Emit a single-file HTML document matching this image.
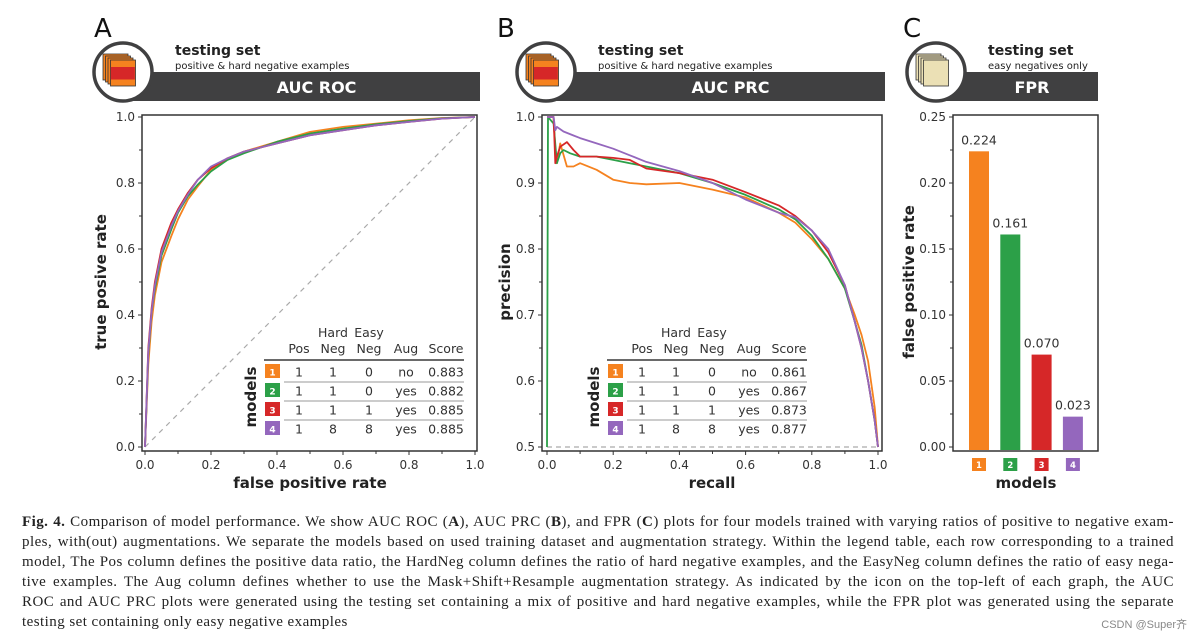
<!DOCTYPE html>
<html><head><meta charset="utf-8">
<style>
html,body{margin:0;padding:0;background:#fff;}
body{width:1195px;height:639px;overflow:hidden;position:relative;}
svg{position:absolute;left:0;top:0;}
.cap{position:absolute;left:22px;top:512px;width:1152px;font-family:"Liberation Serif",serif;font-size:15px;letter-spacing:0.45px;line-height:20px;color:#222;}
.cap div{text-align:justify;text-align-last:justify;white-space:nowrap;}
.cap div.last{text-align-last:left;}
.wm{position:absolute;right:8px;top:616px;font-family:"Liberation Sans",sans-serif;font-size:11px;color:#888;}
</style></head><body>
<svg id="fig" width="1195" height="505" viewBox="0 0 1195 505" font-family="'DejaVu Sans','Liberation Sans',sans-serif"></svg>
<div class="cap">
<div><b>Fig. 4.</b> Comparison of model performance. We show AUC ROC (<b>A</b>), AUC PRC (<b>B</b>), and FPR (<b>C</b>) plots for four models trained with varying ratios of positive to negative exam-</div>
<div>ples, with(out) augmentations. We separate the models based on used training dataset and augmentation strategy. Within the legend table, each row corresponding to a trained</div>
<div>model, The Pos column defines the positive data ratio, the HardNeg column defines the ratio of hard negative examples, and the EasyNeg column defines the ratio of easy nega-</div>
<div>tive examples. The Aug column defines whether to use the Mask+Shift+Resample augmentation strategy. As indicated by the icon on the top-left of each graph, the AUC</div>
<div>ROC and AUC PRC plots were generated using the testing set containing a mix of positive and hard negative examples, while the FPR plot was generated using the separate</div>
<div class="last">testing set containing only easy negative examples</div>
</div>
<div class="wm">CSDN @Super齐</div>
<script>
const colors=["#f5821f","#2ca048","#d62728","#9467bd"];
const models=["1","2","3","4"];
// ROC data
const rocFpr=[0,0.01,0.02,0.03,0.05,0.08,0.1,0.13,0.16,0.2,0.25,0.3,0.4,0.5,0.6,0.7,0.8,0.9,1];
const rocTpr1=[0,0.25,0.38,0.46,0.56,0.64,0.69,0.75,0.79,0.84,0.875,0.895,0.925,0.955,0.97,0.98,0.99,0.997,1];
const rocTpr2=[0,0.28,0.41,0.48,0.58,0.66,0.71,0.76,0.795,0.835,0.87,0.89,0.925,0.95,0.965,0.978,0.988,0.996,1];
const rocTpr3=[0,0.3,0.42,0.5,0.6,0.68,0.72,0.77,0.81,0.845,0.875,0.895,0.92,0.945,0.96,0.975,0.985,0.995,1];
const rocTpr4=[0,0.29,0.41,0.49,0.59,0.67,0.715,0.765,0.81,0.85,0.875,0.895,0.92,0.945,0.96,0.975,0.985,0.995,1];
// PRC data
const prRec1=[0,0.02,0.025,0.03,0.04,0.06,0.08,0.1,0.15,0.2,0.25,0.3,0.4,0.5,0.6,0.7,0.75,0.8,0.85,0.9,0.93,0.95,0.97,0.99,1];
const prPre1=[1,1,0.95,0.93,0.96,0.925,0.925,0.93,0.92,0.905,0.9,0.898,0.9,0.89,0.878,0.855,0.84,0.815,0.785,0.74,0.7,0.67,0.63,0.56,0.5];
const prRec2=[0,0.003,0.02,0.03,0.04,0.05,0.07,0.1,0.15,0.2,0.25,0.3,0.4,0.5,0.6,0.7,0.75,0.8,0.85,0.9,0.93,0.95,0.97,0.99,1];
const prPre2=[0.5,1,0.99,0.93,0.945,0.95,0.945,0.94,0.94,0.935,0.93,0.925,0.915,0.9,0.882,0.86,0.845,0.82,0.785,0.74,0.69,0.655,0.6,0.54,0.5];
const prRec3=[0,0.02,0.025,0.03,0.04,0.06,0.08,0.1,0.15,0.2,0.25,0.3,0.4,0.5,0.6,0.7,0.75,0.8,0.85,0.9,0.93,0.95,0.97,0.99,1];
const prPre3=[1,1,0.93,0.94,0.955,0.962,0.95,0.94,0.94,0.938,0.935,0.922,0.915,0.905,0.886,0.866,0.85,0.828,0.795,0.745,0.69,0.65,0.6,0.54,0.5];
const prRec4=[0,0.02,0.025,0.03,0.05,0.08,0.1,0.15,0.2,0.25,0.3,0.4,0.5,0.6,0.7,0.75,0.8,0.85,0.9,0.93,0.95,0.97,0.99,1];
const prPre4=[1,1,0.98,0.985,0.978,0.972,0.968,0.96,0.952,0.942,0.932,0.918,0.9,0.875,0.855,0.848,0.828,0.8,0.745,0.69,0.65,0.6,0.54,0.5];
// FPR data
const fprVals=[0.224,0.161,0.070,0.023];
const fprTicks=[0,0.05,0.10,0.15,0.20,0.25];
const unitTicks=[0,0.2,0.4,0.6,0.8,1.0];
const prTicks=[0.5,0.6,0.7,0.8,0.9,1.0];
const tableA=[["1","1","0","no","0.883"],["1","1","0","yes","0.882"],["1","1","1","yes","0.885"],["1","8","8","yes","0.885"]];
const tableB=[["1","1","0","no","0.861"],["1","1","0","yes","0.867"],["1","1","1","yes","0.873"],["1","8","8","yes","0.877"]];

const svg=document.getElementById('fig');
const NS="http://www.w3.org/2000/svg";
function mk(tag,attrs,parent,text){const e=document.createElementNS(NS,tag);for(const k in attrs)e.setAttribute(k,attrs[k]);if(text!==undefined)e.textContent=text;(parent||svg).appendChild(e);return e;}

function header(cx,barEnd,title,sub,letter,lx,iconCol){
  const g=mk('g',{});
  
  
  const L=mk('text',{x:lx,y:37,'font-size':26,fill:'#111'},g,letter);
  
  
  mk('rect',{x:cx+10,y:72,width:barEnd-cx-10,height:29,fill:'#404041'},g);
  mk('circle',{cx:cx,cy:72,r:29,fill:'#fff',stroke:'#404041','stroke-width':3.5},g);
  for(let i=0;i<4;i++){mk('rect',{x:cx-20+i*2.5,y:54+i*2,width:25,height:26,fill:iconCol[0],stroke:'#333','stroke-width':0.8},g);}
  if(iconCol[1])mk('rect',{x:cx-12.2,y:67,width:24,height:12.5,fill:iconCol[1]},g);
  mk('text',{x:cx+52,y:55,'font-size':14,'font-weight':'bold',fill:'#222'},g,'testing set');
  mk('text',{x:cx+52,y:69,'font-size':10,fill:'#222'},g,sub);
  mk('text',{x:(cx+30+barEnd)/2,y:93,'font-size':16,'font-weight':'bold',fill:'#fff','text-anchor':'middle'},g,title);
}
header(123,480,'AUC ROC','positive & hard negative examples','A',94,['#f5821f','#d62728']);
header(546,885,'AUC PRC','positive & hard negative examples','B',497,['#f5821f','#d62728']);
header(936,1098,'FPR','easy negatives only','C',903,['#ebe0b5',null]);

function axesFrame(x0,x1,y0,y1,name){
  const f=mk('rect',{x:x0,y:y0,width:x1-x0,height:y1-y0,fill:'none',stroke:'#333','stroke-width':1.5});
  
  
}
function line(pts,col,name){
  const p=mk('polyline',{points:pts.map(q=>q[0].toFixed(1)+','+q[1].toFixed(1)).join(' '),fill:'none',stroke:col,'stroke-width':1.8,'stroke-linejoin':'round'});
  
  
}
const ax=v=>145+v*330, ay=v=>447-v*330;
axesFrame(142,477,115,451,'roc-plot-area');
mk('line',{x1:ax(0),y1:ay(0),x2:ax(1),y2:ay(1),stroke:'#aaa','stroke-width':1.2,'stroke-dasharray':'5,5'});
function xTicks(sx,ticks,yb,fmt){ticks.forEach((t,i)=>{mk('line',{x1:sx(t),y1:yb,x2:sx(t),y2:yb+4,stroke:'#333'});
  const tx=mk('text',{x:sx(t),y:yb+18,'font-size':12,fill:'#333','text-anchor':'middle'},svg,fmt(t));
  
  if(i<ticks.length-1)mk('line',{x1:(sx(t)+sx(ticks[i+1]))/2,y1:yb,x2:(sx(t)+sx(ticks[i+1]))/2,y2:yb+3,stroke:'#333'});});}
function yTicks(sy,ticks,xl,fmt){ticks.forEach((t,i)=>{mk('line',{x1:xl-4,y1:sy(t),x2:xl,y2:sy(t),stroke:'#333'});
  const tx=mk('text',{x:xl-7,y:sy(t)+4,'font-size':12,fill:'#333','text-anchor':'end'},svg,fmt(t));
  
  if(i<ticks.length-1)mk('line',{x1:xl-3,y1:(sy(t)+sy(ticks[i+1]))/2,x2:xl,y2:(sy(t)+sy(ticks[i+1]))/2,stroke:'#333'});});}
xTicks(ax,unitTicks,451,t=>t.toFixed(1));
yTicks(ay,unitTicks,142,t=>t.toFixed(1));
[rocTpr1,rocTpr2,rocTpr3,rocTpr4].forEach((tp,k)=>line(rocFpr.map((f,i)=>[ax(f),ay(tp[i])]),colors[k],'roc-curve-model-'+(k+1)));
function axTitle(x,y,t,rot,name){const e=mk('text',{x:x,y:y,'font-size':15,'font-weight':'bold',fill:'#222','text-anchor':'middle',transform:rot?`rotate(-90 ${x} ${y})`:''},svg,t);}
axTitle(310,488,'false positive rate',false,'x-axis-title-roc');
axTitle(106,282,'true posive rate',true,'y-axis-title-roc');

const bx=v=>547+v*331, by=v=>447-(v-0.5)*660;
axesFrame(542,882,115,451,'prc-plot-area');
mk('line',{x1:bx(0),y1:by(0.5),x2:bx(1),y2:by(0.5),stroke:'#aaa','stroke-width':1.2,'stroke-dasharray':'5,4'});
xTicks(bx,unitTicks,451,t=>t.toFixed(1));
yTicks(by,prTicks,542,t=>t.toFixed(1));
[[prRec1,prPre1],[prRec2,prPre2],[prRec3,prPre3],[prRec4,prPre4]].forEach((d,k)=>line(d[0].map((r,i)=>[bx(r),by(d[1][i])]),colors[k],'prc-curve-model-'+(k+1)));
axTitle(712,488,'recall',false,'x-axis-title-prc');
axTitle(510,282,'precision',true,'y-axis-title-prc');

function table(dx,rows,name){
  const g=mk('g',{});
  const cols=[299,333,369,406,446].map(c=>c+dx);
  const hd1=['','Hard','Easy','',''],hd2=['Pos','Neg','Neg','Aug','Score'];
  cols.forEach((c,i)=>{mk('text',{x:c,y:337,'font-size':12.5,fill:'#333','text-anchor':'middle'},g,hd1[i]);mk('text',{x:c,y:353,'font-size':12.5,fill:'#333','text-anchor':'middle'},g,hd2[i]);});
  mk('line',{x1:264+dx,y1:360,x2:464+dx,y2:360,stroke:'#555','stroke-width':1.8},g);
  rows.forEach((r,k)=>{const y=372+k*19;
    mk('rect',{x:265+dx,y:y-8,width:15,height:14,fill:colors[k]},g);
    mk('text',{x:272.5+dx,y:y+3.5,'font-size':9,'font-weight':'bold',fill:'#fff','text-anchor':'middle'},g,models[k]);
    r.forEach((v,i)=>mk('text',{x:cols[i],y:y+4.5,'font-size':12.5,fill:'#333','text-anchor':'middle'},g,v));
    if(k<rows.length-1)mk('line',{x1:284+dx,y1:y+10,x2:464+dx,y2:y+10,stroke:'#999','stroke-width':1},g);});
  mk('text',{x:256+dx,y:397,'font-size':15,'font-weight':'bold',fill:'#222','text-anchor':'middle',transform:`rotate(-90 ${256+dx} 397)`},g,'models');
}
table(0,tableA,'legend-table-roc');
table(343,tableB,'legend-table-prc');

const cy=v=>447-v/0.25*330;
const cx=i=>979+i*31.3;
axesFrame(953,1098,115,451,'fpr-plot-area');
yTicks(cy,fprTicks,953,t=>t.toFixed(2));
fprVals.forEach((v,i)=>{
  const b=mk('rect',{x:cx(i)-10,y:cy(v),width:20,height:447-cy(v)+3,fill:colors[i]});
  
  const t=mk('text',{x:cx(i),y:cy(v)-7,'font-size':12.5,fill:'#333','text-anchor':'middle'},svg,v.toFixed(3));
  
  mk('rect',{x:cx(i)-7,y:458,width:14,height:13,fill:colors[i]});
  mk('text',{x:cx(i),y:468,'font-size':8.5,'font-weight':'bold',fill:'#fff','text-anchor':'middle'},svg,models[i]);
});
axTitle(1026,488,'models',false,'x-axis-title-fpr');
axTitle(914,282,'false positive rate',true,'y-axis-title-fpr');
</script>
</body></html>
